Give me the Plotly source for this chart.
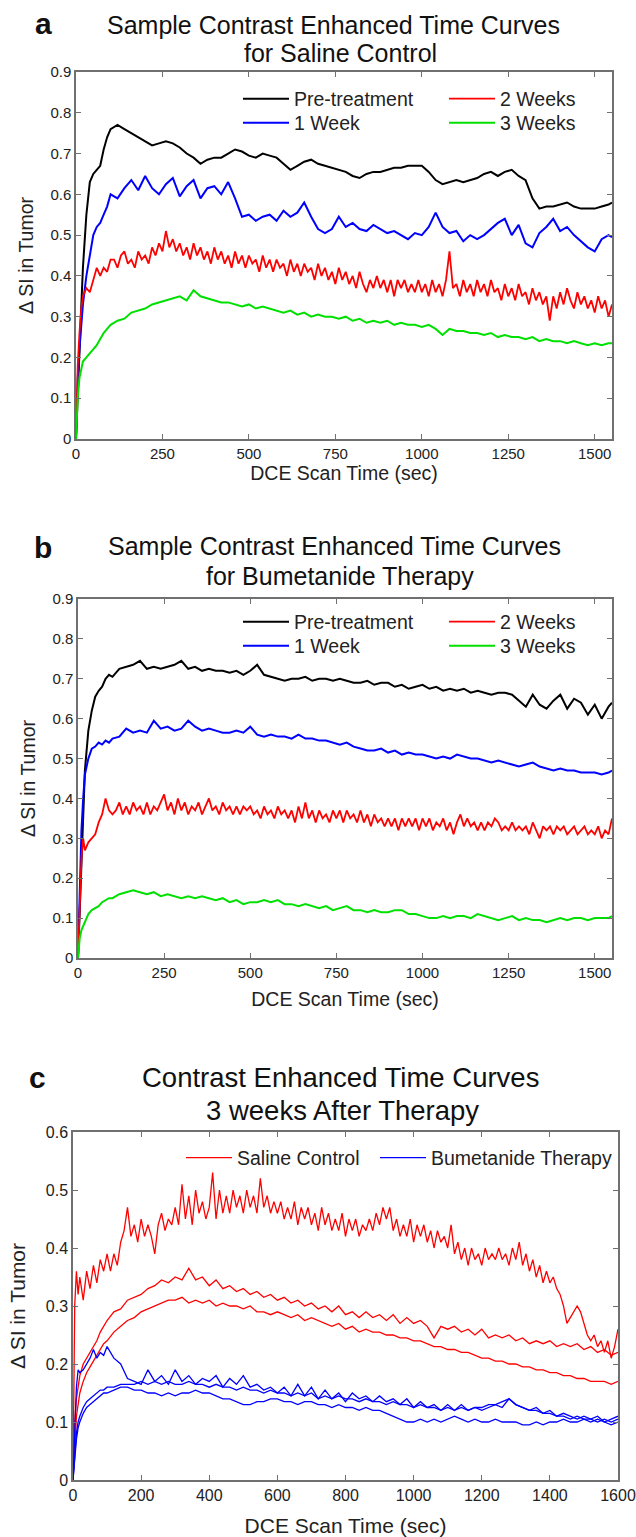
import plotly.graph_objects as go

# ---------------- time grids (sec) ----------------
T_EARLY = [0, 5, 10, 15, 20, 30, 40, 50, 60, 70, 80, 90, 100]
t_ab = T_EARLY + list(range(120, 1541, 20)) + [1550]
t_ab_fine = T_EARLY + list(range(110, 1551, 10))
t_c = T_EARLY + list(range(120, 1601, 20))
t_c_fine = T_EARLY + list(range(110, 1601, 10))

# ---------------- panel a : Saline Control ----------------
a_pre = [0, 0.12, 0.22, 0.32, 0.42, 0.55, 0.63, 0.65, 0.66, 0.67, 0.71, 0.74, 0.76,
         0.77, 0.76, 0.75, 0.74, 0.73, 0.72, 0.725, 0.73,
         0.725, 0.715, 0.70, 0.69, 0.675, 0.685, 0.69, 0.69,
         0.70, 0.71, 0.705, 0.695, 0.69, 0.70, 0.695, 0.69,
         0.675, 0.66, 0.67, 0.68, 0.685, 0.675, 0.67, 0.665,
         0.66, 0.655, 0.645, 0.64, 0.65, 0.655, 0.655, 0.66,
         0.665, 0.665, 0.67, 0.67, 0.67, 0.655, 0.635, 0.625,
         0.63, 0.635, 0.63, 0.635, 0.64, 0.65, 0.655, 0.645,
         0.655, 0.66, 0.645, 0.635, 0.59, 0.565, 0.57, 0.57,
         0.575, 0.58, 0.57, 0.565, 0.565, 0.565, 0.57, 0.575,
         0.58]
a_w1 = [0, 0.15, 0.22, 0.28, 0.33, 0.40, 0.45, 0.50, 0.52, 0.53, 0.55, 0.57, 0.60,
        0.59, 0.615, 0.635, 0.61, 0.645, 0.615, 0.60, 0.625,
        0.64, 0.595, 0.62, 0.635, 0.59, 0.615, 0.62, 0.60,
        0.63, 0.59, 0.545, 0.55, 0.535, 0.545, 0.55, 0.535,
        0.56, 0.545, 0.555, 0.58, 0.545, 0.515, 0.505, 0.515,
        0.545, 0.52, 0.53, 0.515, 0.51, 0.525, 0.515, 0.505,
        0.51, 0.50, 0.49, 0.505, 0.50, 0.52, 0.555, 0.52,
        0.505, 0.51, 0.485, 0.50, 0.49, 0.50, 0.515, 0.53,
        0.54, 0.50, 0.525, 0.48, 0.47, 0.505, 0.52, 0.54,
        0.51, 0.52, 0.50, 0.485, 0.47, 0.46, 0.49, 0.50,
        0.495]
# 2 Weeks (10 s sampling after t = 100)
a_w2 = [0, 0.18, 0.26, 0.32, 0.35, 0.37, 0.36, 0.39, 0.42, 0.40, 0.42, 0.41, 0.44,
        0.44, 0.42, 0.45, 0.46, 0.43, 0.44, 0.42, 0.46, 0.44, 0.45,
        0.43, 0.47, 0.45, 0.48, 0.46, 0.51, 0.47, 0.49, 0.46, 0.48,
        0.45, 0.47, 0.44, 0.48, 0.45, 0.47, 0.44, 0.46, 0.43, 0.47,
        0.44, 0.46, 0.43, 0.45, 0.42, 0.46, 0.43, 0.45, 0.42, 0.45,
        0.43, 0.44, 0.41, 0.45, 0.42, 0.44, 0.41, 0.44, 0.42, 0.43,
        0.40, 0.44, 0.41, 0.43, 0.40, 0.43, 0.41, 0.42, 0.39, 0.43,
        0.40, 0.42, 0.39, 0.41, 0.38, 0.42, 0.39, 0.41, 0.38, 0.40,
        0.37, 0.41, 0.38, 0.36, 0.39, 0.37, 0.40, 0.37, 0.39, 0.36,
        0.39, 0.35, 0.39, 0.37, 0.39, 0.36, 0.38, 0.36, 0.39, 0.36,
        0.38, 0.35, 0.39, 0.36, 0.38, 0.35, 0.39, 0.46, 0.37, 0.38,
        0.35, 0.39, 0.36, 0.38, 0.35, 0.39, 0.36, 0.38, 0.35, 0.39,
        0.36, 0.37, 0.34, 0.38, 0.35, 0.37, 0.34, 0.38, 0.35, 0.36,
        0.33, 0.37, 0.34, 0.36, 0.33, 0.35, 0.29, 0.35, 0.32, 0.36,
        0.33, 0.37, 0.34, 0.32, 0.36, 0.33, 0.35, 0.32, 0.34, 0.31,
        0.35, 0.32, 0.34, 0.30, 0.33]
a_w3 = [0, 0.10, 0.15, 0.17, 0.19, 0.20, 0.21, 0.22, 0.23, 0.245, 0.26, 0.27, 0.28,
        0.29, 0.295, 0.31, 0.315, 0.32, 0.33, 0.335, 0.34,
        0.345, 0.35, 0.34, 0.365, 0.35, 0.345, 0.34, 0.335,
        0.335, 0.33, 0.325, 0.33, 0.32, 0.325, 0.32, 0.315,
        0.31, 0.315, 0.305, 0.31, 0.30, 0.305, 0.30, 0.30,
        0.295, 0.30, 0.29, 0.295, 0.285, 0.29, 0.285, 0.29,
        0.28, 0.285, 0.28, 0.28, 0.275, 0.28, 0.27, 0.255,
        0.27, 0.265, 0.265, 0.26, 0.26, 0.255, 0.26, 0.25,
        0.255, 0.25, 0.25, 0.245, 0.25, 0.24, 0.245, 0.24,
        0.24, 0.235, 0.24, 0.235, 0.23, 0.235, 0.23, 0.235,
        0.235]

# ---------------- panel b : Bumetanide Therapy ----------------
b_pre = [0, 0.12, 0.25, 0.38, 0.47, 0.57, 0.62, 0.655, 0.67, 0.68, 0.70, 0.71, 0.705,
         0.725, 0.73, 0.735, 0.745, 0.725, 0.73, 0.725, 0.73,
         0.735, 0.745, 0.725, 0.73, 0.72, 0.725, 0.72, 0.72,
         0.715, 0.72, 0.71, 0.72, 0.735, 0.71, 0.705, 0.70,
         0.695, 0.70, 0.70, 0.705, 0.695, 0.70, 0.70, 0.695,
         0.70, 0.695, 0.69, 0.69, 0.695, 0.685, 0.69, 0.69,
         0.68, 0.685, 0.675, 0.68, 0.685, 0.675, 0.68, 0.67,
         0.675, 0.67, 0.675, 0.665, 0.67, 0.665, 0.66, 0.665,
         0.665, 0.66, 0.645, 0.63, 0.66, 0.635, 0.625, 0.645,
         0.66, 0.625, 0.65, 0.64, 0.61, 0.635, 0.60, 0.63,
         0.64]
b_w1 = [0, 0.18, 0.32, 0.40, 0.46, 0.50, 0.525, 0.53, 0.54, 0.535, 0.545, 0.54, 0.55,
        0.555, 0.575, 0.565, 0.57, 0.565, 0.595, 0.575, 0.58,
        0.57, 0.575, 0.595, 0.58, 0.57, 0.575, 0.57, 0.565,
        0.565, 0.57, 0.565, 0.58, 0.56, 0.555, 0.56, 0.555,
        0.555, 0.55, 0.56, 0.55, 0.55, 0.545, 0.545, 0.54,
        0.535, 0.54, 0.53, 0.525, 0.52, 0.52, 0.525, 0.515,
        0.52, 0.51, 0.515, 0.51, 0.51, 0.505, 0.50, 0.505,
        0.50, 0.51, 0.505, 0.50, 0.50, 0.495, 0.49, 0.495,
        0.49, 0.485, 0.48, 0.485, 0.49, 0.48, 0.475, 0.47,
        0.475, 0.47, 0.47, 0.465, 0.465, 0.465, 0.46, 0.465,
        0.47]
# 2 Weeks (10 s sampling after t = 100)
b_w2 = [0, 0.15, 0.25, 0.30, 0.27, 0.29, 0.30, 0.31, 0.34, 0.36, 0.40, 0.37, 0.36,
        0.37, 0.39, 0.36, 0.38, 0.36, 0.39, 0.37, 0.38, 0.36, 0.39,
        0.36, 0.38, 0.37, 0.39, 0.41, 0.37, 0.39, 0.36, 0.40, 0.37,
        0.39, 0.36, 0.38, 0.37, 0.39, 0.36, 0.38, 0.40, 0.37, 0.38,
        0.36, 0.39, 0.37, 0.38, 0.36, 0.38, 0.36, 0.38, 0.37, 0.38,
        0.36, 0.37, 0.35, 0.38, 0.36, 0.37, 0.35, 0.38, 0.36, 0.37,
        0.35, 0.37, 0.34, 0.38, 0.35, 0.39, 0.35, 0.37, 0.34, 0.37,
        0.35, 0.36, 0.34, 0.37, 0.35, 0.37, 0.34, 0.37, 0.35, 0.36,
        0.34, 0.37, 0.34, 0.36, 0.33, 0.36, 0.34, 0.35, 0.33, 0.35,
        0.33, 0.35, 0.32, 0.35, 0.33, 0.35, 0.33, 0.35, 0.32, 0.35,
        0.33, 0.35, 0.32, 0.34, 0.33, 0.35, 0.32, 0.34, 0.31, 0.34,
        0.36, 0.33, 0.35, 0.33, 0.34, 0.32, 0.34, 0.32, 0.34, 0.33,
        0.35, 0.34, 0.32, 0.33, 0.32, 0.34, 0.32, 0.33, 0.32, 0.33,
        0.31, 0.34, 0.32, 0.30, 0.33, 0.32, 0.33, 0.31, 0.33, 0.32,
        0.33, 0.31, 0.32, 0.33, 0.31, 0.32, 0.33, 0.31, 0.32, 0.31,
        0.33, 0.30, 0.32, 0.31, 0.35]
b_w3 = [0, 0.05, 0.07, 0.08, 0.09, 0.11, 0.12, 0.125, 0.13, 0.14, 0.145, 0.15, 0.15,
        0.16, 0.165, 0.17, 0.165, 0.16, 0.165, 0.155, 0.16,
        0.155, 0.15, 0.155, 0.15, 0.155, 0.15, 0.145, 0.15,
        0.14, 0.145, 0.135, 0.14, 0.14, 0.145, 0.14, 0.145,
        0.135, 0.135, 0.13, 0.135, 0.13, 0.125, 0.13, 0.12,
        0.125, 0.13, 0.12, 0.12, 0.115, 0.12, 0.115, 0.115,
        0.12, 0.12, 0.11, 0.11, 0.105, 0.10, 0.10, 0.105,
        0.10, 0.105, 0.105, 0.10, 0.11, 0.105, 0.10, 0.095,
        0.10, 0.105, 0.095, 0.10, 0.095, 0.095, 0.09, 0.095,
        0.10, 0.095, 0.10, 0.10, 0.095, 0.10, 0.10, 0.10,
        0.105]

# ---------------- panel c : 3 weeks after therapy ----------------
# saline animal 1 (10 s sampling after t = 100)
c_sal1 = [0, 0.30, 0.36, 0.32, 0.35, 0.31, 0.36, 0.33, 0.37, 0.34, 0.38, 0.36, 0.39,
          0.36, 0.39, 0.37, 0.41, 0.43, 0.47, 0.42, 0.44, 0.41, 0.45,
          0.42, 0.44, 0.42, 0.39, 0.44, 0.46, 0.43, 0.45, 0.44, 0.47,
          0.44, 0.51, 0.45, 0.49, 0.44, 0.50, 0.46, 0.48, 0.45, 0.47,
          0.53, 0.45, 0.50, 0.46, 0.49, 0.46, 0.50, 0.47, 0.49, 0.46,
          0.50, 0.47, 0.49, 0.46, 0.52, 0.47, 0.49, 0.46, 0.48, 0.46,
          0.48, 0.45, 0.47, 0.45, 0.48, 0.44, 0.47, 0.45, 0.47, 0.44,
          0.46, 0.43, 0.47, 0.44, 0.46, 0.43, 0.45, 0.43, 0.46, 0.42,
          0.45, 0.43, 0.45, 0.42, 0.44, 0.43, 0.45, 0.43, 0.46, 0.44,
          0.47, 0.45, 0.47, 0.43, 0.45, 0.42, 0.44, 0.42, 0.45, 0.41,
          0.44, 0.42, 0.44, 0.41, 0.43, 0.40, 0.43, 0.41, 0.42, 0.40,
          0.44, 0.39, 0.41, 0.38, 0.40, 0.37, 0.40, 0.38, 0.39, 0.37,
          0.40, 0.38, 0.39, 0.38, 0.40, 0.38, 0.39, 0.37, 0.40, 0.38,
          0.41, 0.37, 0.39, 0.36, 0.38, 0.35, 0.37, 0.34, 0.36, 0.34,
          0.35, 0.33, 0.32, 0.30, 0.27, 0.28, 0.29, 0.30, 0.29, 0.27,
          0.25, 0.24, 0.25, 0.23, 0.24, 0.22, 0.24, 0.21, 0.23, 0.26]
c_sal2 = [0, 0.10, 0.14, 0.16, 0.18, 0.20, 0.21, 0.22, 0.23, 0.24, 0.255, 0.265, 0.275,
          0.29, 0.295, 0.31, 0.315, 0.32, 0.33, 0.335, 0.345,
          0.34, 0.35, 0.345, 0.365, 0.345, 0.35, 0.335, 0.345,
          0.33, 0.335, 0.325, 0.33, 0.32, 0.325, 0.315, 0.32,
          0.31, 0.315, 0.305, 0.31, 0.30, 0.305, 0.295, 0.30,
          0.29, 0.30, 0.285, 0.29, 0.28, 0.29, 0.28, 0.285,
          0.275, 0.285, 0.27, 0.28, 0.27, 0.275, 0.265, 0.245,
          0.265, 0.26, 0.265, 0.255, 0.26, 0.25, 0.26, 0.245,
          0.25, 0.245, 0.25, 0.24, 0.245, 0.235, 0.24, 0.235,
          0.24, 0.23, 0.235, 0.23, 0.235, 0.225, 0.23, 0.22,
          0.225, 0.215, 0.22]
c_sal3 = [0, 0.07, 0.11, 0.13, 0.15, 0.17, 0.185, 0.195, 0.205, 0.215, 0.225, 0.235, 0.24,
          0.255, 0.265, 0.275, 0.28, 0.29, 0.295, 0.30, 0.305,
          0.31, 0.31, 0.315, 0.305, 0.31, 0.305, 0.31, 0.30,
          0.305, 0.30, 0.30, 0.295, 0.30, 0.29, 0.29, 0.285,
          0.29, 0.285, 0.28, 0.285, 0.275, 0.28, 0.275, 0.27,
          0.265, 0.27, 0.26, 0.265, 0.255, 0.26, 0.255, 0.255,
          0.25, 0.25, 0.245, 0.245, 0.24, 0.24, 0.235, 0.23,
          0.23, 0.225, 0.225, 0.22, 0.22, 0.215, 0.21, 0.21,
          0.205, 0.205, 0.20, 0.20, 0.195, 0.195, 0.19, 0.19,
          0.185, 0.185, 0.18, 0.18, 0.175, 0.175, 0.17, 0.17,
          0.17, 0.165, 0.17]
c_bum1 = [0, 0.10, 0.16, 0.19, 0.185, 0.19, 0.20, 0.21, 0.225, 0.21, 0.22, 0.215, 0.23,
          0.21, 0.20, 0.175, 0.17, 0.165, 0.19, 0.17, 0.18,
          0.165, 0.19, 0.17, 0.18, 0.165, 0.175, 0.17, 0.18,
          0.16, 0.175, 0.165, 0.18, 0.16, 0.165, 0.155, 0.16,
          0.15, 0.16, 0.145, 0.165, 0.145, 0.16, 0.14, 0.155,
          0.14, 0.15, 0.135, 0.15, 0.14, 0.145, 0.135, 0.145,
          0.135, 0.14, 0.13, 0.14, 0.125, 0.135, 0.125, 0.13,
          0.12, 0.13, 0.12, 0.13, 0.12, 0.125, 0.12, 0.125,
          0.13, 0.125, 0.14, 0.13, 0.125, 0.12, 0.125, 0.115,
          0.12, 0.11, 0.115, 0.11, 0.105, 0.11, 0.105, 0.11,
          0.10, 0.105, 0.11]
c_bum2 = [0, 0.05, 0.08, 0.10, 0.11, 0.125, 0.135, 0.14, 0.145, 0.15, 0.155, 0.155, 0.16,
          0.16, 0.165, 0.165, 0.165, 0.17, 0.165, 0.17, 0.165,
          0.17, 0.165, 0.165, 0.17, 0.165, 0.165, 0.16, 0.165,
          0.16, 0.16, 0.155, 0.16, 0.155, 0.155, 0.15, 0.155,
          0.15, 0.15, 0.145, 0.15, 0.145, 0.15, 0.14, 0.145,
          0.14, 0.145, 0.14, 0.14, 0.135, 0.14, 0.135, 0.135,
          0.13, 0.135, 0.13, 0.13, 0.125, 0.13, 0.125, 0.125,
          0.12, 0.125, 0.12, 0.125, 0.12, 0.125, 0.125, 0.13,
          0.13, 0.135, 0.14, 0.13, 0.125, 0.12, 0.12, 0.115,
          0.115, 0.11, 0.11, 0.105, 0.11, 0.105, 0.105, 0.10,
          0.105, 0.10, 0.105]
c_bum3 = [0, 0.04, 0.07, 0.09, 0.10, 0.115, 0.125, 0.13, 0.135, 0.14, 0.145, 0.15, 0.15,
          0.155, 0.16, 0.16, 0.155, 0.155, 0.15, 0.15, 0.145,
          0.15, 0.145, 0.15, 0.15, 0.155, 0.15, 0.15, 0.145,
          0.14, 0.14, 0.135, 0.13, 0.13, 0.135, 0.135, 0.14,
          0.14, 0.135, 0.135, 0.13, 0.135, 0.135, 0.13, 0.13,
          0.125, 0.13, 0.125, 0.125, 0.12, 0.125, 0.12, 0.12,
          0.115, 0.11, 0.105, 0.10, 0.10, 0.105, 0.10, 0.105,
          0.10, 0.105, 0.11, 0.105, 0.10, 0.105, 0.10, 0.10,
          0.105, 0.10, 0.10, 0.10, 0.095, 0.095, 0.10, 0.095,
          0.10, 0.10, 0.105, 0.10, 0.10, 0.105, 0.10, 0.105,
          0.10, 0.095, 0.10]

# ---------------- ticks / labels ----------------
ab_xticks = [0, 250, 500, 750, 1000, 1250, 1500]
ab_yticks = [0, 0.1, 0.2, 0.3, 0.4, 0.5, 0.6, 0.7, 0.8, 0.9]
ab_ytext = ["0", "0.1", "0.2", "0.3", "0.4", "0.5", "0.6", "0.7", "0.8", "0.9"]
c_xticks = [0, 200, 400, 600, 800, 1000, 1200, 1400, 1600]
c_yticks = [0, 0.1, 0.2, 0.3, 0.4, 0.5, 0.6]
c_ytext = ["0", "0.1", "0.2", "0.3", "0.4", "0.5", "0.6"]
week_names = ["Pre-treatment", "1 Week", "2 Weeks", "3 Weeks"]
group_names = ["Saline Control", "Bumetanide Therapy"]

FONT = "Liberation Sans, Arial, sans-serif"
W, H = 636, 1537
BLACK, BLUE, RED, GREEN = "#000000", "#0000ff", "#ff0000", "#00e000"

fig = go.Figure()


def add(t, y, color, width, name, xa, ya, legend, show=True, group=None):
    n = min(len(t), len(y))
    fig.add_trace(go.Scatter(
        x=t[:n], y=y[:n], mode="lines", name=name,
        line=dict(color=color, width=width),
        xaxis=xa, yaxis=ya, legend=legend, showlegend=show,
        legendgroup=group or name))


# panel a
add(t_ab, a_pre, BLACK, 2, week_names[0], "x", "y", "legend")
add(t_ab, a_w1, BLUE, 2, week_names[1], "x", "y", "legend2")
add(t_ab_fine, a_w2, RED, 1.8, week_names[2], "x", "y", "legend3")
add(t_ab, a_w3, GREEN, 2, week_names[3], "x", "y", "legend4")
# panel b
add(t_ab, b_pre, BLACK, 2, week_names[0], "x2", "y2", "legend5", group="b0")
add(t_ab, b_w1, BLUE, 2, week_names[1], "x2", "y2", "legend6", group="b1")
add(t_ab_fine, b_w2, RED, 1.8, week_names[2], "x2", "y2", "legend7", group="b2")
add(t_ab, b_w3, GREEN, 2, week_names[3], "x2", "y2", "legend8", group="b3")
# panel c
add(t_c_fine, c_sal1, RED, 1.3, group_names[0], "x3", "y3", "legend9", True, "sal")
add(t_c, c_sal2, RED, 1.3, group_names[0], "x3", "y3", "legend9", False, "sal")
add(t_c, c_sal3, RED, 1.3, group_names[0], "x3", "y3", "legend9", False, "sal")
add(t_c, c_bum1, BLUE, 1.3, group_names[1], "x3", "y3", "legend10", True, "bum")
add(t_c, c_bum2, BLUE, 1.3, group_names[1], "x3", "y3", "legend10", False, "bum")
add(t_c, c_bum3, BLUE, 1.3, group_names[1], "x3", "y3", "legend10", False, "bum")


def px(v):
    return v / W


def py(v):
    return 1 - v / H


AXC = "#707070"


def xax(dom, rng, ticks, anchor, fs, tfs, standoff):
    return dict(domain=dom, range=rng, tickvals=ticks, ticks="inside", ticklen=5,
                tickcolor=AXC, showline=True, linecolor=AXC, linewidth=1.5,
                mirror="ticks", showgrid=False, zeroline=False, anchor=anchor,
                automargin=False,
                tickfont=dict(size=tfs, color="#222", family=FONT),
                title=dict(text="DCE Scan Time (sec)", font=dict(size=fs, color="#222", family=FONT),
                           standoff=standoff))


def yax(dom, rng, ticks, text, anchor, fs, tfs, standoff):
    return dict(domain=dom, range=rng, tickvals=ticks, ticktext=text, ticks="inside", ticklen=5,
                tickcolor=AXC, showline=True, linecolor=AXC, linewidth=1.5,
                mirror="ticks", showgrid=False, zeroline=False, anchor=anchor,
                automargin=False,
                tickfont=dict(size=tfs, color="#222", family=FONT),
                title=dict(text="Δ SI in Tumor", font=dict(size=fs, color="#222", family=FONT),
                           standoff=standoff))


def leg(x, y, fs=19.5):
    # x: pixel where the legend line should start, y: pixel centre of the row
    return dict(x=px(x - 7), y=py(y), xanchor="left", yanchor="middle", orientation="v",
                bgcolor="rgba(0,0,0,0)", borderwidth=0, itemwidth=46,
                font=dict(size=fs, color="#222", family=FONT), tracegroupgap=0)


annotations = []


def label(text, x, y, size, bold=False):
    annotations.append(dict(text=("<b>%s</b>" % text) if bold else text, x=px(x), y=py(y),
                            xref="paper", yref="paper", showarrow=False,
                            xanchor="center", yanchor="middle",
                            font=dict(size=size, color="#111", family=FONT)))


label("a", 43, 24, 30, True)
label("Sample Contrast Enhanced Time Curves", 333, 25, 25)
label("for Saline Control", 340, 53, 25)
label("b", 43, 547, 30, True)
label("Sample Contrast Enhanced Time Curves", 334, 546, 25)
label("for Bumetanide Therapy", 340, 576, 25)
label("c", 37, 1077, 30, True)
label("Contrast Enhanced Time Curves", 340, 1077, 27.5)
label("3 weeks After Therapy", 342, 1110, 27.5)

fig.update_layout(
    width=W, height=H, autosize=False,
    margin=dict(l=0, r=0, t=0, b=0, pad=0, autoexpand=False),
    paper_bgcolor="white", plot_bgcolor="white",
    font=dict(family=FONT, color="#222"),
    xaxis=xax([px(76), px(612)], [0, 1550], ab_xticks, "y", 19.5, 15, 4),
    yaxis=yax([py(439), py(72)], [0, 0.9], ab_yticks, ab_ytext, "x", 19.5, 15, 12),
    xaxis2=xax([px(78), px(612)], [0, 1550], ab_xticks, "y2", 19.5, 15, 13),
    yaxis2=yax([py(958), py(599)], [0, 0.9], ab_yticks, ab_ytext, "x2", 19.5, 15, 12),
    xaxis3=xax([px(73), px(618)], [0, 1600], c_xticks, "y3", 21, 16, 17),
    yaxis3=yax([py(1480), py(1132)], [0, 0.6], c_yticks, c_ytext, "x3", 21, 16, 14),
    legend=leg(245, 99),
    legend2=leg(245, 123),
    legend3=leg(451, 99),
    legend4=leg(451, 123),
    legend5=leg(245, 622),
    legend6=leg(245, 646),
    legend7=leg(451, 622),
    legend8=leg(451, 646),
    legend9=leg(188, 1158),
    legend10=leg(382, 1158),
    annotations=annotations,
)

fig.write_html("out.html", config={"displayModeBar": False},
               post_script="document.body.style.margin='0px';")
